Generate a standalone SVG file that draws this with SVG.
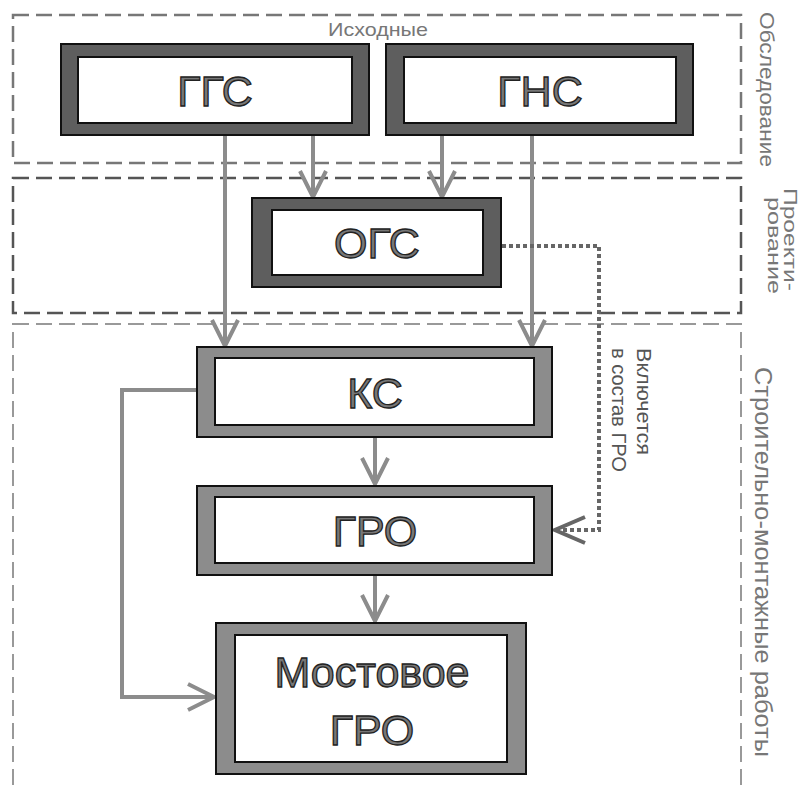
<svg xmlns="http://www.w3.org/2000/svg" width="803" height="787" viewBox="0 0 803 787">
<style>
.zone1{fill:none;stroke:#777;stroke-width:2.5;stroke-dasharray:16 7}
.zone2{fill:none;stroke:#555;stroke-width:2.5;stroke-dasharray:16 7}
.zone3{fill:none;stroke:#999;stroke-width:2;stroke-dasharray:16 7}
.frameD{fill:#5e5e5e;stroke:#111;stroke-width:2}
.frameL{fill:#8c8c8c;stroke:#111;stroke-width:2}
.inner{fill:#fff;stroke:#111;stroke-width:2}
.ntext{font-family:"Liberation Sans",Arial,sans-serif;font-size:43px;fill:#777;stroke:#222;stroke-width:1.3;text-anchor:middle}
.side{font-family:"Liberation Sans",Arial,sans-serif;fill:#777}
.note{font-family:"Liberation Sans",Arial,sans-serif;fill:#555}
.conn{fill:none;stroke:#8c8c8c;stroke-width:4}
.dot{fill:none;stroke:#666;stroke-width:4;stroke-dasharray:4 3}
</style>
<defs>
<marker id="arr" markerUnits="userSpaceOnUse" markerWidth="32" markerHeight="32" refX="26" refY="13" orient="auto" viewBox="-2 -2 32 32">
<path d="M0,0 L26,13 L0,26" fill="none" stroke="#8c8c8c" stroke-width="4"/>
</marker>
<marker id="arrD" markerUnits="userSpaceOnUse" markerWidth="36" markerHeight="32" refX="30" refY="13" orient="auto" viewBox="-2 -2 36 32">
<path d="M0,0 L30,13 L0,26" fill="none" stroke="#666" stroke-width="4"/>
</marker>
</defs>
<rect width="803" height="787" fill="#fff"/>

<g id="zones">
<rect class="zone1" x="13" y="15" width="728" height="148"/>
<rect class="zone2" x="13" y="178" width="728" height="135"/>
<rect class="zone3" x="13" y="324" width="728" height="480"/>
<text class="side" x="328" y="36" font-size="19" textLength="100" lengthAdjust="spacingAndGlyphs">Исходные</text>
<text class="side" font-size="20" textLength="155" lengthAdjust="spacingAndGlyphs" transform="translate(760,12) rotate(90)">Обследование</text>
<text class="side" font-size="19" textLength="103" lengthAdjust="spacingAndGlyphs" transform="translate(784,188) rotate(90)">Проекти-</text>
<text class="side" font-size="19" textLength="97" lengthAdjust="spacingAndGlyphs" transform="translate(768,197) rotate(90)">рование</text>
<text class="side" font-size="23" textLength="390" lengthAdjust="spacingAndGlyphs" transform="translate(755,367) rotate(90)">Строительно-монтажные работы</text>
<text class="note" font-size="20" textLength="107" lengthAdjust="spacingAndGlyphs" transform="translate(637,348) rotate(90)">Включется</text>
<text class="note" font-size="20" textLength="124" lengthAdjust="spacingAndGlyphs" transform="translate(612,348) rotate(90)">в состав ГРО</text>
</g>

<g id="connectors">
<line class="conn" x1="225" y1="136" x2="225" y2="346" marker-end="url(#arr)"/>
<line class="conn" x1="313" y1="136" x2="313" y2="197" marker-end="url(#arr)"/>
<line class="conn" x1="442" y1="136" x2="442" y2="197" marker-end="url(#arr)"/>
<line class="conn" x1="532" y1="136" x2="532" y2="346" marker-end="url(#arr)"/>
<line class="conn" x1="375" y1="438" x2="375" y2="484" marker-end="url(#arr)"/>
<line class="conn" x1="375" y1="576" x2="375" y2="621" marker-end="url(#arr)"/>
<polyline class="conn" points="196,390 122,390 122,697 214,697" marker-end="url(#arr)"/>
<polyline class="dot" points="502,246 599,246 599,530 555,530" marker-end="url(#arrD)"/>
</g>

<g id="node-ggs">
<rect class="frameD" x="61" y="44" width="308" height="91"/>
<rect class="inner" x="78" y="57" width="274" height="66"/>
<text class="ntext" x="215" y="106">ГГС</text>
</g>
<g id="node-gns">
<rect class="frameD" x="386" y="44" width="307" height="91"/>
<rect class="inner" x="404" y="57" width="272" height="66"/>
<text class="ntext" x="540" y="106">ГНС</text>
</g>
<g id="node-ogs">
<rect class="frameD" x="252" y="198" width="249" height="89"/>
<rect class="inner" x="272" y="210" width="211" height="65"/>
<text class="ntext" x="377" y="258">ОГС</text>
</g>
<g id="node-ks">
<rect class="frameL" x="197" y="347" width="355" height="90"/>
<rect class="inner" x="215" y="358" width="319" height="67"/>
<text class="ntext" x="375" y="408">КС</text>
</g>
<g id="node-gro">
<rect class="frameL" x="197" y="486" width="355" height="89"/>
<rect class="inner" x="215" y="497" width="319" height="66"/>
<text class="ntext" x="375" y="546">ГРО</text>
</g>
<g id="node-mgro">
<rect class="frameL" x="216" y="623" width="310" height="151"/>
<rect class="inner" x="235" y="635" width="272" height="127"/>
<text class="ntext" x="372" y="687">Мостовое</text>
<text class="ntext" x="372" y="745">ГРО</text>
</g>
</svg>
